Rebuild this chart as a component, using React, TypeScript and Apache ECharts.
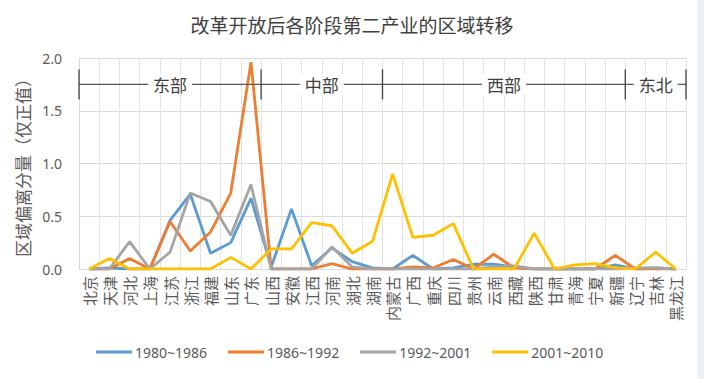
import React, { useEffect, useRef } from "react";
import * as echarts from "echarts";

const title = "改革开放后各阶段第二产业的区域转移";
const yAxisName = "区域偏离分量（仅正值）";
const categories = ["北京", "天津", "河北", "上海", "江苏", "浙江", "福建", "山东", "广东", "山西", "安徽", "江西", "河南", "湖北", "湖南", "内蒙古", "广西", "重庆", "四川", "贵州", "云南", "西藏", "陕西", "甘肃", "青海", "宁夏", "新疆", "辽宁", "吉林", "黑龙江"];
const seriesNames = ["1980~1986", "1986~1992", "1992~2001", "2001~2010"];
const s1980 = [0, 0.01, 0, 0, 0.46, 0.71, 0.15, 0.25, 0.67, 0.02, 0.57, 0.03, 0.2, 0.07, 0.01, 0, 0.13, 0, 0.01, 0.045, 0.045, 0.02, 0, 0, 0, 0, 0.04, 0, 0.01, 0];
const s1986 = [0, 0, 0.1, 0, 0.45, 0.17, 0.35, 0.72, 1.96, 0, 0, 0, 0.05, 0, 0, 0, 0.02, 0.01, 0.09, 0, 0.14, 0.01, 0, 0, 0, 0, 0.13, 0, 0, 0];
const s1992 = [0, 0, 0.26, 0, 0.16, 0.72, 0.64, 0.32, 0.8, 0, 0, 0, 0.21, 0.02, 0, 0, 0, 0, 0, 0, 0.02, 0.03, 0, 0, 0, 0, 0, 0.01, 0.01, 0];
const s2001 = [0, 0.1, 0, 0, 0, 0, 0, 0.11, 0, 0.19, 0.19, 0.44, 0.41, 0.15, 0.26, 0.9, 0.3, 0.32, 0.43, 0, 0, 0, 0.34, 0, 0.04, 0.05, 0.01, 0, 0.16, 0];
const seriesData = [s1980, s1986, s1992, s2001];
const colors = ["#5B9BD5", "#ED7D31", "#A5A5A5", "#FFC000"];
// regions: name, first index, last index
const regionNames = ["东部", "中部", "西部", "东北"];
const regionStart = [0, 9, 15, 27];
const regionEnd = [8, 14, 26, 29];
const regionLevel = 1.75;

export default function App() {
  const ref = useRef<HTMLDivElement>(null);
  useEffect(() => {
    document.body.style.margin = "0";
    const chart = echarts.init(ref.current!, null, { renderer: "svg" });
    const txt = "#595959";
    chart.setOption({
      animation: false,
      backgroundColor: "#ffffff",
      title: {
        text: title,
        left: "center",
        top: 10,
        textStyle: { fontFamily: "Noto Sans CJK SC", fontSize: 19, fontWeight: "normal", color: "#404040" },
      },
      grid: { left: 79, right: 18, top: 58, bottom: 110 },
      legend: {
        left: 96,
        top: 345,
        icon: "rect",
        itemWidth: 36,
        itemHeight: 3,
        itemGap: 21,
        padding: 0,
        textStyle: { fontFamily: "Noto Sans", fontSize: 14, color: txt, padding: [0, 0, 0, -2] },
        data: seriesNames,
      },
      xAxis: {
        type: "category",
        data: categories,
        boundaryGap: true,
        axisLine: { show: true, lineStyle: { color: "#D9D9D9", width: 1 } },
        axisTick: { show: false },
        splitLine: { show: true, interval: 0, lineStyle: { color: "#E3E3E3", width: 1 } },
        axisLabel: {
          interval: 0,
          rotate: 90,
          margin: 7,
          fontFamily: "Noto Sans CJK SC",
          fontSize: 15,
          color: txt,
        },
      },
      yAxis: {
        type: "value",
        min: 0,
        max: 2,
        interval: 0.5,
        name: yAxisName,
        nameLocation: "middle",
        nameRotate: 90,
        nameGap: 45,
        nameTextStyle: { fontFamily: "Noto Sans CJK SC", fontSize: 17, color: txt },
        axisLine: { show: true, lineStyle: { color: "#D9D9D9" } },
        axisTick: { show: false },
        splitLine: { show: true, lineStyle: { color: "#D9D9D9" } },
        axisLabel: {
          margin: 17,
          fontFamily: "Noto Sans",
          fontSize: 14,
          color: txt,
          formatter: (v: number) => v.toFixed(1),
        },
      },
      series: seriesNames.map((n, i) => ({
        name: n,
        type: "line",
        data: seriesData[i],
        symbol: "none",
        lineStyle: { color: colors[i], width: 2.8 },
        itemStyle: { color: colors[i] },
      })),
    });

    const px = (i: number) => chart.convertToPixel({ xAxisIndex: 0 }, i) as number;
    const step = px(1) - px(0);
    const yLine = chart.convertToPixel({ yAxisIndex: 0 }, regionLevel) as number;
    const bounds: number[] = [px(regionStart[0]) - step / 2];
    regionEnd.forEach((e) => bounds.push(px(e) + step / 2));
    const elements: any[] = [];
    elements.push({
      type: "rect",
      shape: { x: 697, y: 0, width: 7, height: 379 },
      style: { fill: "#EEF1F6" },
      silent: true,
    });
    elements.push({
      type: "line",
      shape: { x1: bounds[0], y1: yLine, x2: bounds[bounds.length - 1], y2: yLine },
      style: { stroke: "#595959", lineWidth: 1.3 },
      z: 10,
    });
    bounds.forEach((b) => {
      elements.push({
        type: "line",
        shape: { x1: b, y1: yLine - 15, x2: b, y2: yLine + 15 },
        style: { stroke: "#404040", lineWidth: 1.3 },
        z: 10,
      });
    });
    regionNames.forEach((n, i) => {
      elements.push({
        type: "text",
        x: (bounds[i] + bounds[i + 1]) / 2,
        y: yLine,
        style: {
          text: n,
          fill: "#404040",
          font: "17px 'Noto Sans CJK SC'",
          align: "center",
          verticalAlign: "middle",
          backgroundColor: "#ffffff",
          padding: [2, 5, 2, 5],
        },
        z: 11,
      });
    });
    chart.setOption({ graphic: { elements } });
    return () => chart.dispose();
  }, []);
  return <div ref={ref} style={{ width: 704, height: 379 }} />;
}
